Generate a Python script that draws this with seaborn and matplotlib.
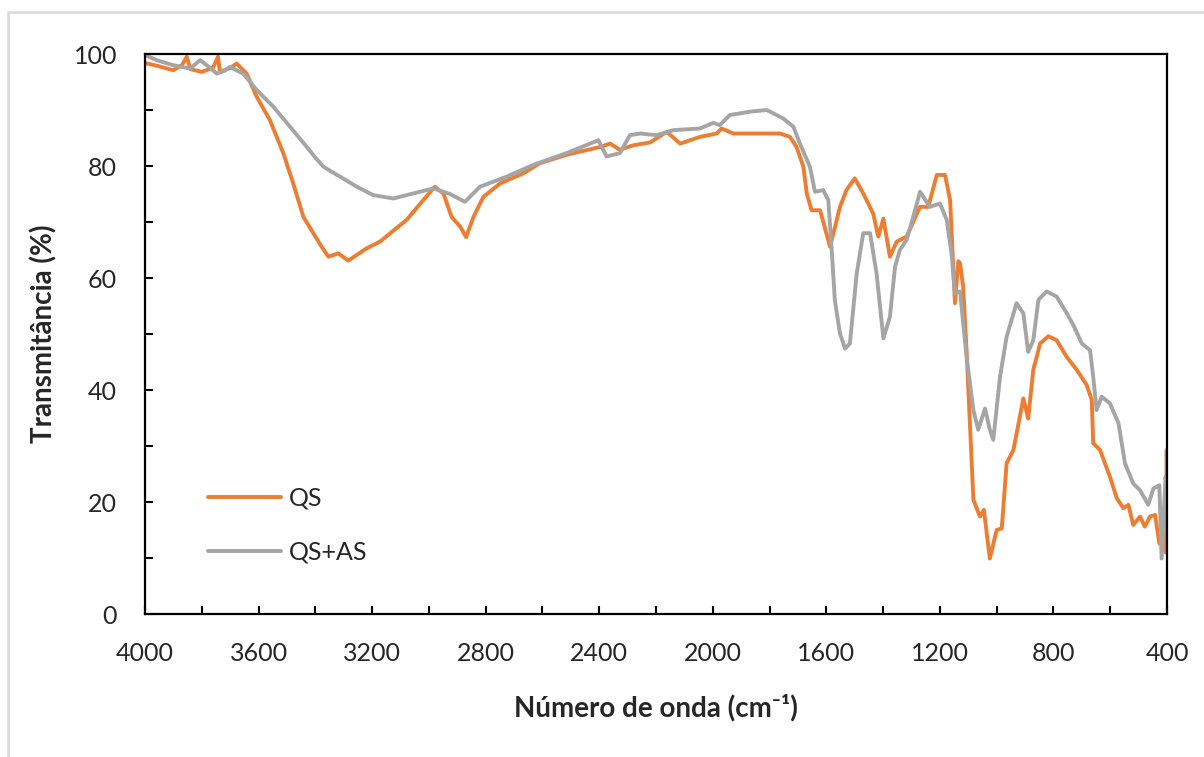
import numpy as np
import pandas as pd
import matplotlib
matplotlib.use("Agg")
import matplotlib.pyplot as plt
from matplotlib.patches import Rectangle
from matplotlib.ticker import MultipleLocator
import seaborn as sns

# QS spectrum (wavenumber cm-1, transmittance %)
qs_wn = [4000, 3950, 3901, 3870, 3853, 3840, 3800, 3783, 3760, 3743, 3736, 3700, 3677, 3642,
         3607, 3560, 3513, 3478, 3442, 3407, 3378, 3354, 3319, 3284, 3219, 3172, 3078, 3020,
         2979, 2949, 2920, 2890, 2869, 2843, 2808, 2749, 2667, 2609, 2515, 2397, 2362, 2327,
         2280, 2221, 2162, 2115, 2045, 1986, 1969, 1928, 1810, 1763, 1728, 1705, 1681, 1669,
         1652, 1622, 1587, 1570, 1552, 1529, 1500, 1470, 1435, 1417, 1399, 1376, 1352, 1317,
         1270, 1241, 1211, 1182, 1164, 1147, 1135, 1129, 1118, 1106, 1082, 1059, 1045, 1024,
         1000, 982, 965, 941, 906, 889, 871, 847, 818, 789, 753, 718, 683, 665, 660, 636, 601,
         577, 554, 536, 519, 495, 478, 460, 442, 427, 415, 405, 402, 401, 400]
qs_t = [98.4, 97.8, 97.1, 98.0, 99.5, 97.3, 96.8, 97.1, 97.6, 99.5, 96.8, 97.5, 98.3, 96.5,
        92.4, 88.2, 82.3, 76.9, 70.9, 68.0, 65.6, 63.8, 64.4, 63.1, 65.3, 66.5, 70.4, 73.9,
        76.3, 75.1, 70.9, 69.2, 67.3, 70.9, 74.5, 76.9, 78.7, 80.5, 82.0, 83.4, 84.0, 82.9,
        83.7, 84.2, 86.1, 84.0, 85.2, 85.8, 86.7, 85.8, 85.8, 85.8, 85.2, 83.4, 79.9, 75.1,
        72.1, 72.1, 65.6, 69.0, 72.7, 75.7, 77.8, 75.1, 71.5, 67.4, 70.6, 63.8, 66.5, 67.4,
        72.7, 72.7, 78.4, 78.4, 73.9, 55.5, 63.0, 62.6, 58.4, 47.1, 20.4, 17.4, 18.6, 9.9,
        15.0, 15.3, 26.9, 29.3, 38.5, 34.9, 43.6, 48.3, 49.6, 48.9, 45.9, 43.6, 40.9, 38.2,
        30.5, 29.3, 24.5, 20.7, 18.9, 19.5, 15.9, 17.4, 15.6, 17.4, 17.7, 12.6, 14.5, 11.0,
        12.0, 29.3, 11.0]

# QS+AS spectrum
qsas_wn = [4000, 3959, 3901, 3841, 3806, 3770, 3747, 3720, 3701, 3654, 3607, 3548, 3489, 3430,
           3400, 3372, 3340, 3313, 3254, 3196, 3125, 3055, 2984, 2926, 2873, 2820, 2726, 2632,
           2515, 2403, 2374, 2327, 2292, 2256, 2198, 2139, 2045, 1998, 1975, 1940, 1869, 1810,
           1752, 1716, 1693, 1658, 1640, 1611, 1593, 1581, 1570, 1552, 1534, 1517, 1493, 1470,
           1446, 1423, 1399, 1376, 1358, 1341, 1317, 1294, 1270, 1235, 1200, 1176, 1159, 1147,
           1129, 1106, 1082, 1065, 1041, 1024, 1012, 988, 965, 930, 906, 889, 871, 853, 824,
           789, 753, 730, 700, 671, 660, 648, 630, 601, 571, 548, 519, 495, 466, 448, 427, 419,
           405, 400]
qsas_t = [99.8, 98.9, 98.0, 97.4, 98.9, 97.5, 96.5, 97.0, 97.7, 96.5, 93.6, 90.6, 87.0, 83.4,
          81.5, 79.9, 78.9, 78.1, 76.3, 74.8, 74.2, 75.1, 76.0, 75.0, 73.6, 76.3, 78.1, 80.2,
          82.3, 84.6, 81.7, 82.3, 85.5, 85.8, 85.5, 86.4, 86.7, 87.7, 87.3, 89.1, 89.7, 90.0,
          88.5, 87.0, 84.0, 79.9, 75.4, 75.7, 73.9, 65.0, 56.0, 50.1, 47.4, 48.3, 60.8, 68.0,
          68.0, 60.8, 49.2, 53.1, 62.0, 65.0, 66.8, 70.9, 75.4, 72.7, 73.3, 70.4, 64.4, 57.3,
          57.6, 45.9, 36.4, 32.9, 36.7, 32.9, 31.1, 42.4, 49.5, 55.5, 53.7, 46.8, 48.9, 56.1,
          57.6, 56.7, 53.7, 51.6, 48.3, 47.1, 42.4, 36.4, 38.8, 37.6, 34.1, 26.9, 23.3, 22.1,
          19.5, 22.4, 23.0, 9.9, 24.5, 22.0]

sns.set_theme(style="white")
plt.rcParams['font.family'] = ['Lato', 'DejaVu Sans']

fig = plt.figure(figsize=(12.04, 7.57), dpi=100)
ax = fig.add_axes([145 / 1204, 1 - 614 / 757, (1167 - 145) / 1204, (614 - 54) / 757])

sns.lineplot(x=qs_wn, y=qs_t, ax=ax, color='#ED7D31', lw=2.8, label='QS',
             estimator=None, sort=False)
sns.lineplot(x=qsas_wn, y=qsas_t, ax=ax, color='#A5A5A5', lw=2.8, label='QS+AS',
             estimator=None, sort=False)

ax.set_xlim(4000, 400)
ax.set_ylim(0, 100)
ax.xaxis.set_major_locator(MultipleLocator(400))
ax.xaxis.set_minor_locator(MultipleLocator(200))
ax.yaxis.set_major_locator(MultipleLocator(20))
ax.yaxis.set_minor_locator(MultipleLocator(10))
ax.tick_params(axis='both', which='both', direction='in', length=6, width=1.5,
               color='black', labelsize=18, labelcolor='#262626')
ax.tick_params(axis='x', which='both', bottom=True, top=False, pad=20)
ax.tick_params(axis='y', which='both', left=True, right=False, pad=20)
for s in ax.spines.values():
    s.set_color('black')
    s.set_linewidth(1.6)

ax.set_xlabel('Número de onda (cm⁻¹)', fontsize=20, fontweight='bold', labelpad=21)
ax.set_ylabel('Transmitância (%)', fontsize=20, fontweight='bold', labelpad=12)

ax.legend(loc='lower left', bbox_to_anchor=(0.04, 0.05), frameon=False, fontsize=18,
          handlelength=2.9, handletextpad=0.3, labelspacing=1.25)

# outer chart-area border (partially visible)
fig.patches.append(Rectangle((8 / 1204, -0.1), 1.2, 1.1 - 12 / 757, transform=fig.transFigure,
                             fill=False, edgecolor='#D9D9D9', lw=1.8, zorder=0))

fig.savefig('out.png', dpi=100)
